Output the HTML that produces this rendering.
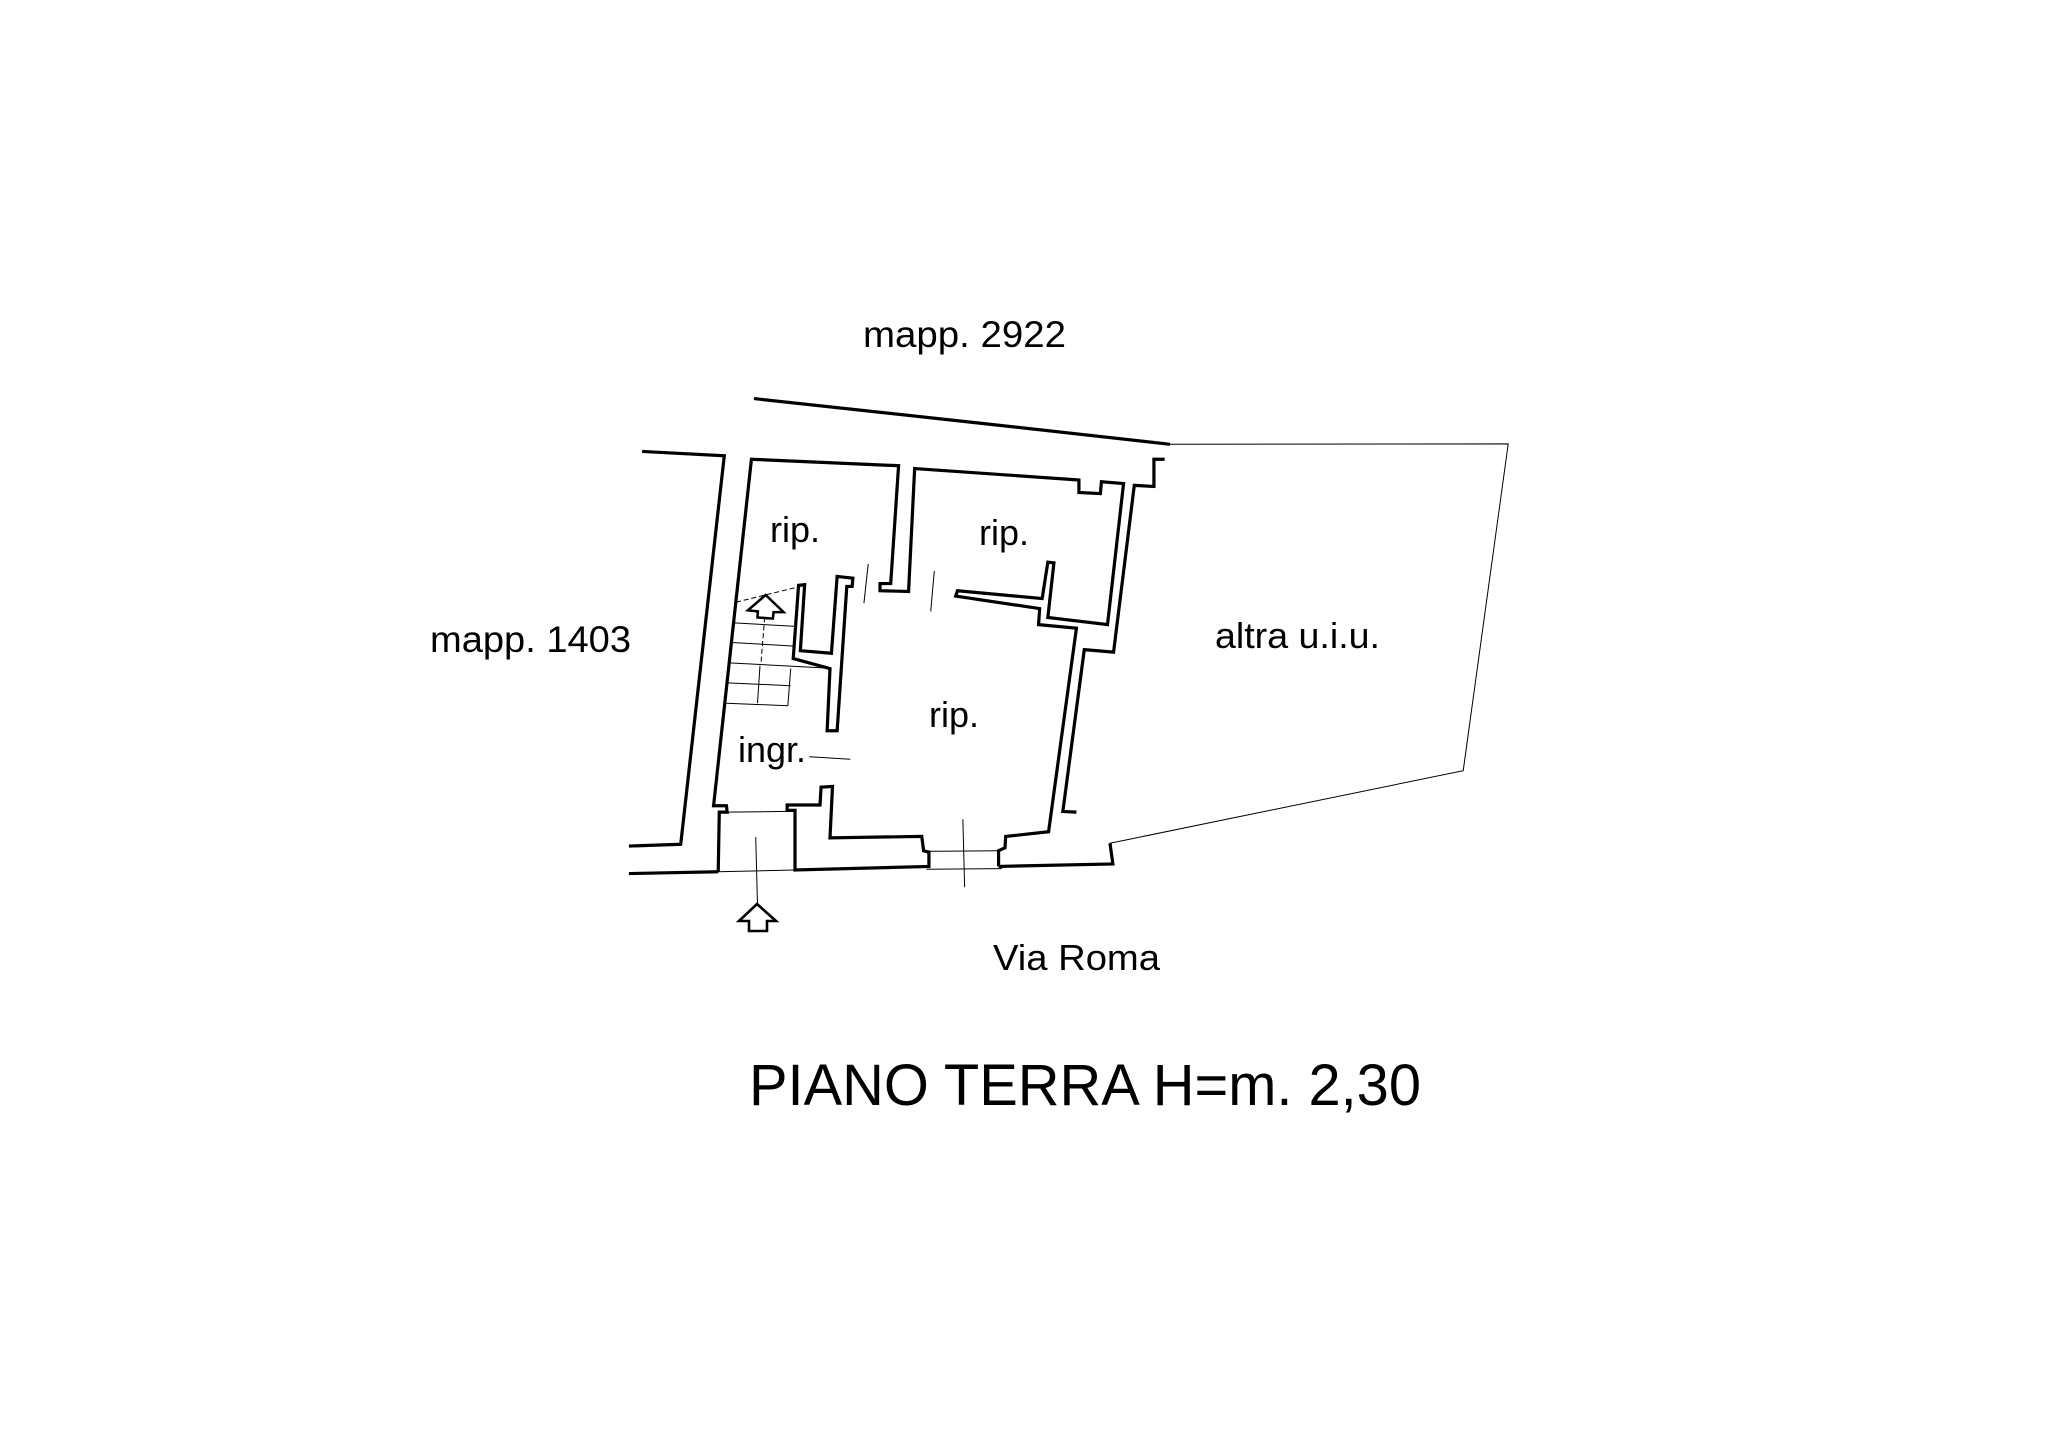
<!DOCTYPE html>
<html><head><meta charset="utf-8"><style>
html,body{margin:0;padding:0;background:#fff;}
svg{display:block;}
text{font-family:"Liberation Sans",Arial,sans-serif;fill:#000;}
</style></head><body>
<svg width="2048" height="1447" viewBox="0 0 2048 1447" xmlns="http://www.w3.org/2000/svg">
<rect width="2048" height="1447" fill="#fff"/>
<g transform="translate(620,380) scale(0.35714)" fill="none" stroke="#000" stroke-linejoin="miter">
  <!-- thick walls -->
  <g stroke-width="9">
    <path d="M375,52 L1000,120 L1540,180"/>
    <path d="M1372,1297 L1380,1355 L1060,1362"/>
    <path d="M62,200 L292,212 L170,1300 L25,1305"/>
    <path d="M275,1377 L278,1210 L300,1210 L298,1192 L262,1192 L368,222 L780,240 L758,570 L728,570 L728,590 L808,592 L825,248 L1285,280 L1285,315 L1345,318 L1348,285 L1410,290 L1365,685 L1198,665 L1215,512 L1198,510 L1182,612 L945,590 L940,605 L1175,640 L1172,685 L1278,695 L1200,1265 L1080,1278 L1078,1310 L1060,1318 L1060,1362"/>
    <path d="M25,1382 L275,1377"/>
    <path d="M1525,222 L1495,222 L1495,298 L1440,295 L1382,762 L1300,755 L1240,1208 L1278,1210"/>
    <path d="M490,1372 L490,1205 L468,1205 L468,1190 L560,1190 L563,1140 L595,1138 L588,1282 L845,1278 L850,1318 L865,1322 L865,1362 Z"/>
    <path d="M608,550 L652,555 L650,578 L635,578 L608,982 L580,982 L588,808 L485,780 L500,575 L517,573 L505,758 L592,765 Z"/>
  </g>
  <!-- thin lines -->
  <g stroke-width="2.8">
    <path d="M1540,180 L2487,179 L2361,1094 L1372,1297"/>
    <path d="M298,1210 L468,1208"/>
    <path d="M275,1377 L490,1372"/>
    <path d="M380,1280 L385,1470"/>
    <path d="M850,1320 L1065,1318"/>
    <path d="M858,1370 L1070,1368"/>
    <path d="M960,1230 L965,1420"/>
    <path d="M695,515 L683,625"/>
    <path d="M880,535 L870,648"/>
    <path d="M530,1055 L645,1062"/>
    <path d="M325,622 L517,575" stroke-dasharray="14 8"/>
    <path d="M320,680 L492,690"/>
    <path d="M312,735 L488,745"/>
    <path d="M305,792 L588,807"/>
    <path d="M300,848 L478,856"/>
    <path d="M298,905 L470,912"/>
    <path d="M478,808 L470,912"/>
    <path d="M392,800 L385,905"/>
    <path d="M405,665 L395,790" stroke-dasharray="14 8"/>
  </g>
  <path d="M408,602 L458,650 L430,650 L428,668 L385,665 L386,648 L358,645 Z" stroke-width="7"/>
</g>
<path d="M757,904 L776,921 L767,921 L767,931 L749,931 L749,921 L739,921 Z" fill="none" stroke="#000" stroke-width="2.6"/>
<text x="863" y="347" font-size="37" textLength="203" lengthAdjust="spacingAndGlyphs">mapp. 2922</text>
<text x="430" y="652" font-size="37" textLength="201" lengthAdjust="spacingAndGlyphs">mapp. 1403</text>
<text x="770" y="542" font-size="36">rip.</text>
<text x="979" y="545" font-size="36">rip.</text>
<text x="929" y="727" font-size="36">rip.</text>
<text x="738" y="762" font-size="36">ingr.</text>
<text x="1215" y="648" font-size="36" textLength="165" lengthAdjust="spacingAndGlyphs">altra u.i.u.</text>
<text x="993" y="970" font-size="36" textLength="167" lengthAdjust="spacingAndGlyphs">Via Roma</text>
<text x="749" y="1105" font-size="58" textLength="672" lengthAdjust="spacingAndGlyphs">PIANO TERRA H=m. 2,30</text>
</svg>
</body></html>
